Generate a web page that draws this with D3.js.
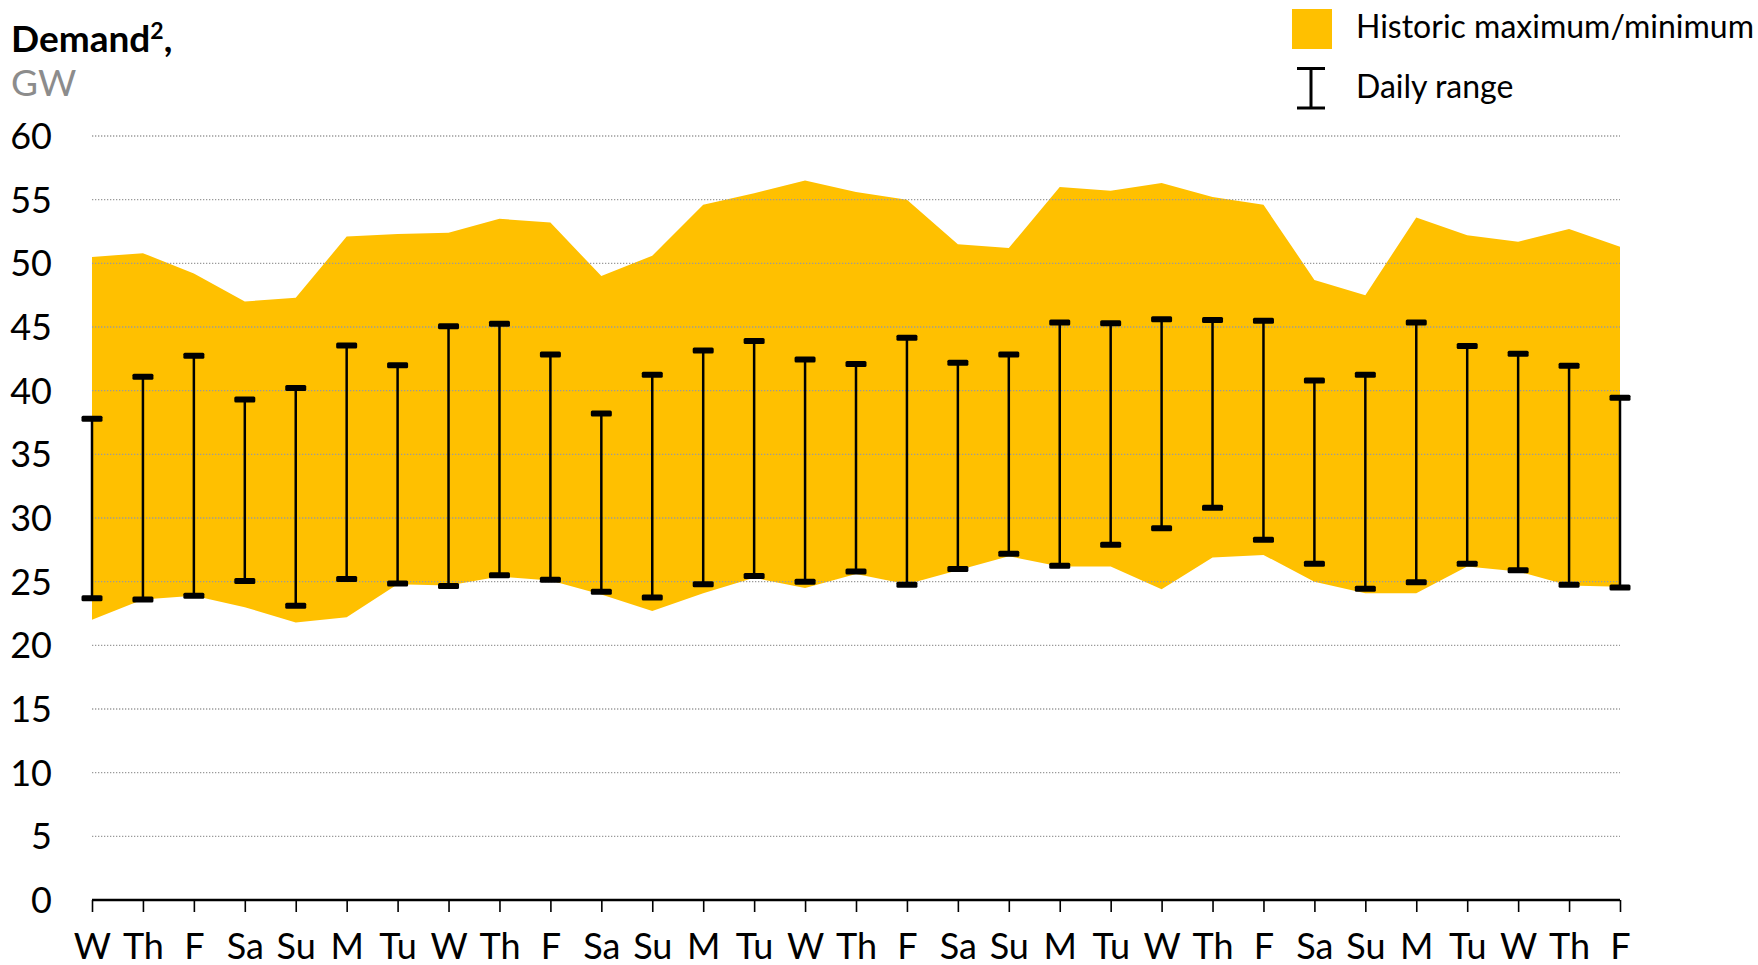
<!DOCTYPE html>
<meta charset="utf-8">
<title>Demand chart</title>
<style>
  body { margin: 0; background: #fff; }
  text { font-family: Lato, "Open Sans", sans-serif; }
</style>
<body>
<script src="https://d3js.org/d3.v7.min.js"></script>
<script>

// day labels along the x axis
var days = ["W","Th","F","Sa","Su","M","Tu","W","Th","F","Sa","Su","M","Tu","W","Th",
            "F","Sa","Su","M","Tu","W","Th","F","Sa","Su","M","Tu","W","Th","F"];

// historic max / min band, GW
var histMax = [50.5, 50.8, 49.2, 47.0, 47.3, 52.1, 52.3, 52.4, 53.5, 53.2, 49.0, 50.6, 54.6, 55.5, 56.5, 55.6,
               55.0, 51.5, 51.2, 56.0, 55.7, 56.3, 55.2, 54.6, 48.7, 47.5, 53.6, 52.2, 51.7, 52.7, 51.3];
var histMin = [22.0, 23.6, 23.9, 23.0, 21.8, 22.2, 24.8, 24.7, 25.4, 25.1, 24.0, 22.7, 24.1, 25.3, 24.5, 25.6,
               24.8, 25.9, 27.0, 26.2, 26.2, 24.4, 26.9, 27.1, 25.0, 24.1, 24.1, 26.2, 25.8, 24.7, 24.6];

// daily range, GW
var dayHigh = [37.8, 41.1, 42.75, 39.3, 40.2, 43.55, 42.0, 45.05, 45.25, 42.85, 38.2, 41.25, 43.15, 43.9, 42.45, 42.1,
               44.15, 42.2, 42.85, 45.35, 45.3, 45.6, 45.55, 45.5, 40.8, 41.25, 45.35, 43.5, 42.9, 41.95, 39.45];
var dayLow  = [23.7, 23.6, 23.9, 25.05, 23.1, 25.2, 24.85, 24.65, 25.5, 25.15, 24.2, 23.75, 24.8, 25.45, 25.0, 25.8,
               24.75, 26.0, 27.2, 26.25, 27.9, 29.2, 30.8, 28.3, 26.4, 24.45, 24.95, 26.4, 25.9, 24.75, 24.55];

var yTicks = [0, 5, 10, 15, 20, 25, 30, 35, 40, 45, 50, 55, 60];

var width = 1758;
var height = 965;
var yellow = "#FFC000";

var svg = d3.select("body")
      .append("svg")
      .attr("width", width)
      .attr("height", height);

var x = d3.scaleLinear().domain([0, days.length - 1]).range([92, 1620]);
var y = d3.scaleLinear().domain([0, 60]).range([900, 136]);

// historic band
var area = d3.area()
  .x(function(d, i) { return x(i); })
  .y0(function(d, i) { return y(histMin[i]); })
  .y1(function(d) { return y(d); });

svg.append("path")
  .datum(histMax)
  .attr("fill", yellow)
  .attr("d", area);

// dotted grid lines, drawn over the band
svg.append("g")
  .selectAll("line")
  .data(yTicks.filter(function(t) { return t > 0; }))
  .join("line")
  .attr("x1", x(0))
  .attr("x2", x(days.length - 1))
  .attr("y1", function(d) { return y(d); })
  .attr("y2", function(d) { return y(d); })
  .attr("stroke", "#9a9a9a")
  .attr("stroke-width", 1.3)
  .attr("stroke-dasharray", "1.3,1.7");

// y tick labels
svg.append("g")
  .selectAll("text")
  .data(yTicks)
  .join("text")
  .attr("x", 52)
  .attr("y", function(d) { return y(d); })
  .attr("dy", ".36em")
  .attr("text-anchor", "end")
  .style("font-size", "36px")
  .style("fill", "#000")
  .text(function(d) { return d; });

// x axis
var xAxis = d3.axisBottom(x)
  .tickValues(d3.range(days.length))
  .tickSize(12)
  .tickFormat(function(i) { return days[i]; });

var gx = svg.append("g")
  .attr("transform", "translate(0," + y(0) + ")")
  .call(xAxis);
gx.select(".domain").attr("stroke-width", 2.5).attr("d", "M" + x(0) + ",0H" + x(days.length - 1));
gx.selectAll(".tick line").attr("stroke-width", 1.6);
gx.selectAll(".tick text")
  .attr("y", 59)
  .attr("dy", 0)
  .style("font-size", "36px")
  .style("font-family", "Lato, sans-serif")
  .style("fill", "#000");

// daily range bars
var bars = svg.append("g")
  .selectAll("g")
  .data(days)
  .join("g");

bars.append("line")
  .attr("x1", function(d, i) { return x(i); })
  .attr("x2", function(d, i) { return x(i); })
  .attr("y1", function(d, i) { return y(dayHigh[i]); })
  .attr("y2", function(d, i) { return y(dayLow[i]); })
  .attr("stroke", "#000")
  .attr("stroke-width", 2.5);

[dayHigh, dayLow].forEach(function(arr) {
  bars.append("rect")
    .attr("x", function(d, i) { return x(i) - 10.5; })
    .attr("y", function(d, i) { return y(arr[i]) - 3; })
    .attr("width", 21)
    .attr("height", 6)
    .attr("rx", 1.5)
    .attr("fill", "#000");
});

// title
var title = svg.append("text")
  .attr("x", 11)
  .attr("y", 52)
  .style("font-size", "37px")
  .style("font-weight", "bold")
  .style("fill", "#000");
title.append("tspan").text("Demand");
title.append("tspan").attr("dy", -13).style("font-size", "23px").text("2");
title.append("tspan").attr("dy", 13).text(",");

svg.append("text")
  .attr("x", 11)
  .attr("y", 96)
  .style("font-size", "37px")
  .style("fill", "#8c8c8c")
  .text("GW");

// legend
svg.append("rect")
  .attr("x", 1292)
  .attr("y", 9)
  .attr("width", 40)
  .attr("height", 40)
  .attr("fill", yellow);

svg.append("text")
  .attr("x", 1356)
  .attr("y", 38)
  .style("font-size", "32px")
  .style("fill", "#000")
  .text("Historic maximum/minimum");

svg.append("line")
  .attr("x1", 1311).attr("x2", 1311)
  .attr("y1", 67).attr("y2", 109)
  .attr("stroke", "#000")
  .attr("stroke-width", 3);
svg.append("line")
  .attr("x1", 1297).attr("x2", 1325)
  .attr("y1", 68.5).attr("y2", 68.5)
  .attr("stroke", "#000")
  .attr("stroke-width", 3);
svg.append("line")
  .attr("x1", 1297).attr("x2", 1325)
  .attr("y1", 108).attr("y2", 108)
  .attr("stroke", "#000")
  .attr("stroke-width", 3);

svg.append("text")
  .attr("x", 1356)
  .attr("y", 98)
  .style("font-size", "32px")
  .style("fill", "#000")
  .text("Daily range");

</script>
</body>
